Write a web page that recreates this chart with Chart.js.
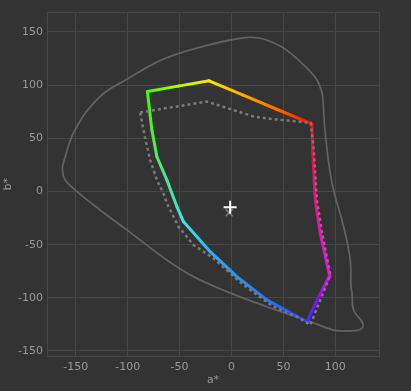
<!DOCTYPE html>
<html>
<head>
<meta charset="utf-8">
<script src="https://cdn.jsdelivr.net/npm/chart.js@4/dist/chart.umd.min.js"></script>
<style>
  html, body { margin: 0; padding: 0; background: #333333; }
  #wrap { width: 411px; height: 391px; }
</style>
</head>
<body>
<div id="wrap"><canvas id="gamutChart"></canvas></div>
<script>
// outer boundary (spectral locus)
const locusA = [111.3, 122.4, 126.7, 125.7, 117.6, 116.1, 115.1, 114.4, 108.0, 96.8, 90.3, 88.1, 87.2, 82.3, 69.4, 50.1, 30.9, 18.0, 0.4, -23.7, -49.5, -71.9, -99.9, -126.6, -150.7, -162.0, -162.9, -160.3, -150.7, -126.6, -100.8, -62.3, -36.6, -4.4, 34.1, 75.9, 98.3, 111.3];
const locusB = [-131.2, -130.3, -127.2, -122.5, -111.5, -95.5, -89.5, -64.4, -33.0, 8.1, 55.2, 86.2, 92.5, 105.1, 119.2, 134.9, 143.4, 144.9, 142.7, 137.3, 130.2, 121.7, 106.0, 89.3, 58.0, 26.6, 20.3, 10.9, 1.5, -17.4, -36.1, -64.4, -80.1, -94.2, -108.4, -122.5, -130.3, -131.2];

// wide gamut (coloured outline)
const wideA = [-81.0, -51.4, -21.5, 11.3, 44.1, 77.5, 78.1, 80.7, 85.5, 94.5, 83.9, 72.7, 34.1, 5.2, -20.5, -46.3, -52.6, -62.3, -71.9, -76.7, -81.0];
const wideB = [94.0, 99.1, 104.1, 90.6, 77.1, 63.6, 39.2, -7.9, -39.2, -79.5, -99.2, -122.5, -102.0, -80.1, -56.6, -28.3, -14.2, 10.9, 32.9, 58.0, 94.0];
const wideColors = ['#3cff00', '#b4ff00', '#ffe600', '#ffaa00', '#ff6a00', '#ff0a00', '#ff0040', '#ff0090', '#ff00c8', '#f000ff', '#9a00ff', '#2a3cff', '#1e78ff', '#1e96ff', '#28b4f8', '#3ce6e6', '#3ce6c0', '#46e696', '#50eb64', '#4cf032', '#3cff00'];

// reference gamut (dotted)
const refA = [-88.0, -23.7, 21.2, 37.3, 76.4, 79.3, 82.2, 87.4, 95.2, 75.9, 66.2, 40.5, 11.6, -17.4, -36.6, -51.1, -62.3, -65.6, -71.9, -78.4, -83.2, -88.0];
const refB = [74.3, 84.6, 70.5, 68.3, 64.6, 39.2, -7.9, -39.3, -78.5, -125.6, -119.3, -108.4, -87.9, -62.8, -50.3, -33.0, -11.0, -1.6, 10.9, 29.7, 50.2, 74.3];

// white points
const whiteA = [-1.3];
const whiteB = [-14.8];
const refWhiteA = [-2.2];
const refWhiteB = [-19.9];

const xTicks = [-150, -100, -50, 0, 50, 100];
const yTicks = [-150, -100, -50, 0, 50, 100, 150];

const fontColor = '#9a9a9a';
const gridColor = '#474747';

function points(xs, ys) {
  return xs.map((x, i) => ({ x: x, y: ys[i] }));
}

function gradientSegment(ctx) {
  const c = ctx.chart ? ctx.chart.ctx : document.getElementById('gamutChart').getContext('2d');
  const g = c.createLinearGradient(ctx.p0.x, ctx.p0.y, ctx.p1.x, ctx.p1.y);
  g.addColorStop(0, wideColors[ctx.p0DataIndex]);
  g.addColorStop(1, wideColors[ctx.p1DataIndex]);
  return g;
}

function axis(ticks, min, max, title) {
  return {
    type: 'linear',
    min: min,
    max: max,
    afterBuildTicks: scale => {
      scale.ticks = [min, ...ticks, max].map(v => ({ value: v }));
    },
    ticks: {
      autoSkip: false,
      maxRotation: 0,
      color: fontColor,
      padding: 4,
      callback: v => ticks.includes(v) ? String(v) : ''
    },
    grid: { color: gridColor, drawTicks: false },
    border: { color: gridColor },
    title: { display: true, text: title, color: fontColor, padding: { top: 2, bottom: 4 } }
  };
}

const xAxis = axis(xTicks, -177.7, 142.1, 'a*');
xAxis.afterFit = s => { s.height = 34.5; };
const yAxis = axis(yTicks, -155.2, 168.8, 'b*');
yAxis.afterFit = s => { s.width = 47; };

Chart.defaults.font.family = 'DejaVu Sans';
Chart.defaults.font.size = 11;

new Chart(document.getElementById('gamutChart'), {
  type: 'scatter',
  data: {
    datasets: [
      {
        data: points(whiteA, whiteB),
        pointStyle: 'cross',
        pointRadius: 6.5,
        pointBorderWidth: 2,
        borderColor: '#ffffff',
        showLine: false
      },
      {
        data: points(refWhiteA, refWhiteB),
        pointStyle: 'crossRot',
        pointRadius: 5,
        pointBorderWidth: 1.5,
        borderColor: '#7c7c7c',
        showLine: false
      },
      {
        data: points(refA, refB),
        showLine: true,
        borderColor: '#7a7a7a',
        borderWidth: 2.5,
        borderDash: [3, 3],
        pointRadius: 0,
        tension: 0
      },
      {
        data: points(wideA, wideB),
        showLine: true,
        borderColor: wideColors[0],
        borderWidth: 3,
        borderCapStyle: 'round',
        pointRadius: 0,
        tension: 0,
        segment: {
          borderColor: gradientSegment,
          borderDashOffset: ctx => ctx.p0DataIndex
        }
      },
      {
        data: points(locusA, locusB),
        showLine: true,
        borderColor: '#626262',
        borderWidth: 1.8,
        pointRadius: 0,
        tension: 0.4
      }
    ]
  },
  options: {
    responsive: true,
    maintainAspectRatio: false,
    animation: false,
    layout: { padding: { top: 12, right: 32, left: 0, bottom: 0 } },
    plugins: {
      legend: { display: false },
      tooltip: { enabled: false }
    },
    scales: {
      x: xAxis,
      y: yAxis
    }
  }
});
</script>
</body>
</html>
